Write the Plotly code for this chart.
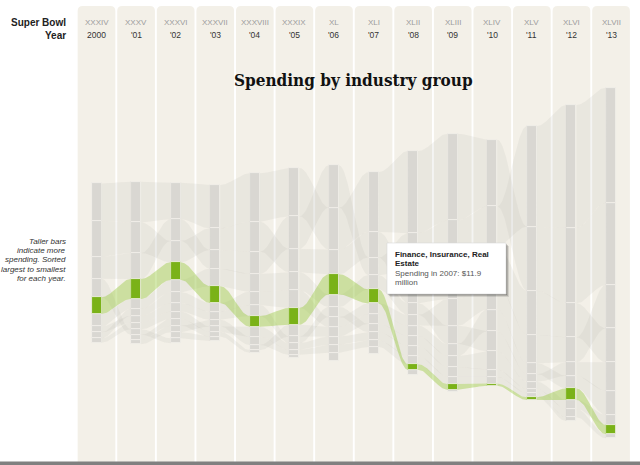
import plotly.graph_objects as go
import numpy as np

# SUPER BOWL AD SPENDING BY INDUSTRY GROUP ($ millions, None = no ads that year)
years = ["2000", "'01", "'02", "'03", "'04", "'05", "'06", "'07", "'08", "'09", "'10", "'11", "'12", "'13"]
roman = ["XXXIV", "XXXV", "XXXVI", "XXXVII", "XXXVIII", "XXXIX", "XL", "XLI", "XLII", "XLIII", "XLIV", "XLV", "XLVI", "XLVII"]

beer = [32.0, 34.5, 31.0, 36.7, 41.0, 41.0, 35.6, 50.6, 69.7, 73.5, 56.5, 54.2, 64.1, 69.7]
movies = [30.2, 25.9, 18.1, 18.4, 25.4, 19.8, 20.9, 21.7, 27.1, 28.5, 31.0, 37.5, 28.8, 28.8]
autos = [18.6, 22.0, 18.3, 15.8, 18.9, 27.6, 35.8, 15.0, 32.2, 38.1, 33.9, 85.3, 104.0, 97.5]
internet = [15.6, 4.7, 4.2, None, 4.2, 9.9, 8.1, 8.0, 8.7, 10.2, 18.4, 9.3, 10.7, 20.3]
soft_drinks = [10.5, 8.5, 10.4, 14.8, 15.0, 15.3, 10.5, 12.0, 9.8, 15.5, 16.9, 6.3, 11.4, 24.3]
tech = [5.1, 5.7, 7.1, 7.0, 9.3, 5.7, 8.5, 7.0, 8.5, 9.3, 15.5, 6.2, 7.6, 8.5]
food = [5.1, 5.9, 9.3, 7.1, 11.3, 14.9, 8.5, 9.3, 9.1, 22.6, 22.6, 24.0, 21.2, 36.7]
telecom = [3.7, 5.6, 6.2, 4.5, 8.5, 5.6, 7.0, 7.0, 8.5, 8.2, 6.2, 3.6, 7.0, 3.4]
retail = [None, 4.2, 5.7, 4.2, 2.3, None, None, None, None, None, None, None, None, None]
personal_care = [None, 3.8, 5.6, 5.7, 7.0, 4.2, 6.8, 5.7, 7.1, 6.2, 5.7, 3.4, 3.1, None]
apparel = [None, None, 5.1, 3.6, None, 2.8, None, 5.7, None, 2.2, None, None, None, None]
travel = [None, None, None, None, None, None, 6.7, None, 4.2, None, 0.4, None, None, None]
finance = [14.1, 16.9, 15.0, 14.4, 9.1, 14.2, 17.2, 11.9, 4.8, 4.8, 1.9, 2.3, 9.9, 7.9]

groups = {
    "Beer, wine & liquor": beer,
    "Motion pictures": movies,
    "Automotive": autos,
    "Internet": internet,
    "Soft drinks": soft_drinks,
    "Technology": tech,
    "Food & candy": food,
    "Telecom": telecom,
    "Retail": retail,
    "Personal care": personal_care,
    "Apparel": apparel,
    "Travel": travel,
    "Finance, Insurance, Real Estate": finance,
}
highlight = "Finance, Insurance, Real Estate"
hover_year = 7

# page geometry (px)
W, H = 640, 465
COL_PX = 39.58     # distance between year columns
COL0_PX = 96.5     # centre of first column
MID_PX = 263       # vertical centre of the bars
PX_PER_M = 1.18    # px per $1 million
BAR_W = 10 / COL_PX

BG = "#F3F0E8"
GRAY = "#D9D7D2"
GREEN = "#7AB218"
FONT = "Liberation Sans, Arial, sans-serif"

n = len(years)

# stack each year largest -> smallest, centred on 0
tops = {g: [None] * n for g in groups}
bots = {g: [None] * n for g in groups}
for i in range(n):
    present = [(g, v[i]) for g, v in groups.items() if v[i] is not None]
    present.sort(key=lambda t: -t[1])
    y = sum(v for _, v in present) / 2
    for g, v in present:
        tops[g][i] = y
        bots[g][i] = y - v
        y -= v

fig = go.Figure()

# flows between years
t = np.linspace(0, 1, 40)
s = (1 - np.cos(np.pi * t)) / 2
half = BAR_W / 2
for g in groups:
    xs, ys = [], []
    for i in range(n - 1):
        if tops[g][i] is None or tops[g][i + 1] is None:
            continue
        x = i + half + (1 - 2 * half) * t
        top = tops[g][i] + (tops[g][i + 1] - tops[g][i]) * s
        bot = bots[g][i] + (bots[g][i + 1] - bots[g][i]) * s
        xs += list(x) + list(x[::-1]) + [None]
        ys += list(top) + list(bot[::-1]) + [None]
    hl = g == highlight
    fig.add_trace(go.Scatter(
        x=xs, y=ys, mode="lines", fill="toself",
        line=dict(width=0),
        fillcolor="rgba(150,200,60,0.42)" if hl else "rgba(180,176,168,0.14)",
        hoverinfo="skip", showlegend=False,
    ))

# bars
for g, vals in groups.items():
    idx = [i for i in range(n) if vals[i] is not None]
    fig.add_trace(go.Bar(
        x=idx, y=[vals[i] for i in idx], base=[bots[g][i] for i in idx],
        width=BAR_W,
        marker=dict(color=GREEN if g == highlight else GRAY,
                    line=dict(color="#F1EFEA", width=0.8)),
        hoverinfo="skip", showlegend=False,
    ))

# column panels with rounded tops
shapes = []
rx = 5 / COL_PX
ry = 5 / H
ytop = 1 - 6 / H
for i in range(n):
    x0, x1 = i - 0.476, i + 0.476
    path = (f"M {x0},0 L {x0},{ytop - ry} Q {x0},{ytop} {x0 + rx},{ytop} "
            f"L {x1 - rx},{ytop} Q {x1},{ytop} {x1},{ytop - ry} L {x1},0 Z")
    shapes.append(dict(type="path", path=path, xref="x", yref="paper",
                       fillcolor=BG, line=dict(width=0), layer="below"))


def px(xp, yp):
    return xp / W, 1 - yp / H


# tooltip box
for off, alpha in [(3, 0.10), (2, 0.16), (1, 0.2)]:
    a, b = px(387 + off, 243 + off)
    c, d = px(506 + off, 294 + off)
    shapes.append(dict(type="rect", xref="paper", yref="paper", x0=a, y0=d, x1=c, y1=b,
                       fillcolor=f"rgba(0,0,0,{alpha})", line=dict(width=0)))
a, b = px(387, 243)
c, d = px(506, 294)
shapes.append(dict(type="rect", xref="paper", yref="paper", x0=a, y0=d, x1=c, y1=b,
                   fillcolor="white", line=dict(color="#D8D8D8", width=0.6)))

# bottom strip
shapes.append(dict(type="rect", xref="paper", yref="paper", x0=0, x1=1, y0=0, y1=3.5 / H,
                   fillcolor="#808080", line=dict(width=0)))

annotations = []
for i in range(n):
    annotations.append(dict(x=i, xref="x", y=1 - 22 / H, yref="paper", text=roman[i],
                            xanchor="center", yanchor="middle", showarrow=False,
                            font=dict(family=FONT, size=8, color="#9C9C9C")))
    annotations.append(dict(x=i, xref="x", y=1 - 35 / H, yref="paper", text=years[i],
                            xanchor="center", yanchor="middle", showarrow=False,
                            font=dict(family=FONT, size=8.5, color="#333")))

for label, yp in [("Super Bowl", 22), ("Year", 35)]:
    annotations.append(dict(x=68 / W, y=1 - yp / H, xref="paper", yref="paper",
                            xanchor="right", yanchor="middle",
                            text=f"<b>{label}</b>", showarrow=False,
                            font=dict(family=FONT, size=10, color="#222")))

note = ["Taller bars", "indicate more", "spending. Sorted", "largest to smallest", "for each year."]
for k, line in enumerate(note):
    annotations.append(dict(x=68 / W, y=1 - (241 + 9.4 * k) / H, xref="paper", yref="paper",
                            xanchor="right", yanchor="middle", text=f"<i>{line}</i>", showarrow=False,
                            font=dict(family=FONT, size=8, color="#333")))

annotations.append(dict(x=353.5 / W, y=1 - 80 / H, xref="paper", yref="paper",
                        xanchor="center", yanchor="middle",
                        text="<b>Spending by industry group</b>", showarrow=False,
                        font=dict(family="DejaVu Serif Condensed, DejaVu Serif", size=17, color="#111")))

name_lines = highlight.rsplit(" ", 1)
value_lines = [f"Spending in {2000 + hover_year}: ${groups[highlight][hover_year]}", "million"]
tip = [(name_lines[0], True), (name_lines[1], True), (value_lines[0], False), (value_lines[1], False)]
for k, (line, bold) in enumerate(tip):
    annotations.append(dict(x=393 / W, y=1 - (254.3 + 9.5 * k) / H, xref="paper", yref="paper",
                            xanchor="left", yanchor="middle",
                            text=f"<b>{line}</b>" if bold else line, showarrow=False,
                            font=dict(family=FONT, size=8, color="#222" if bold else "#555")))

fig.update_layout(
    width=W, height=H, autosize=False,
    margin=dict(l=0, r=0, t=0, b=0),
    paper_bgcolor="white", plot_bgcolor="rgba(0,0,0,0)",
    barmode="overlay", bargap=0,
    hovermode=False,
    xaxis=dict(range=[-COL0_PX / COL_PX, (W - COL0_PX) / COL_PX], visible=False, fixedrange=True),
    yaxis=dict(range=[-(H - MID_PX) / PX_PER_M, MID_PX / PX_PER_M], visible=False, fixedrange=True),
    shapes=shapes,
    annotations=annotations,
)

# page has a default 8px body margin; drop it so the figure sits at the top-left corner
fig.write_html("out.html", config={"displayModeBar": False},
               post_script="document.body.style.margin='0px';")
